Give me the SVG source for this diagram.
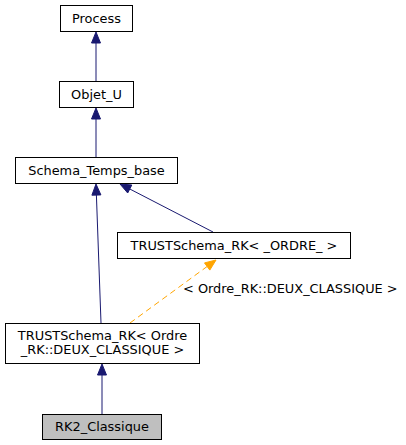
<svg xmlns="http://www.w3.org/2000/svg" width="406" height="445" viewBox="0 0 406 445">
<style>
.node rect{fill:#ffffff;stroke:#000000;stroke-width:1}
.node text{font-family:"DejaVu Sans",sans-serif;font-size:12.9px;fill:#000000;text-anchor:middle}
.edge line{stroke:#191970;stroke-width:1;fill:none}
.edge polygon{fill:#191970;stroke:#191970;stroke-width:1}
.tmpl line{stroke:#ffa500;stroke-dasharray:6,4}
.tmpl polygon{fill:#ffa500;stroke:#ffa500}
.lbl{font-family:"DejaVu Sans",sans-serif;font-size:12.9px;fill:#000000}
</style>
<rect width="406" height="445" fill="#ffffff"/>
<g id="connectors">
<g class="edge"><line x1="96" y1="81" x2="96" y2="43"/><polygon points="91.5,43 96,32 100.5,43"/></g>
<g class="edge"><line x1="96" y1="157" x2="96" y2="119"/><polygon points="91.5,119 96,108 100.5,119"/></g>
<g class="edge"><line x1="101" y1="323" x2="96.4" y2="195"/><polygon points="91.9,195.2 96,184 100.9,194.9"/></g>
<g class="edge"><line x1="213" y1="232" x2="129.8" y2="189"/><polygon points="131.8,185 120,184 127.7,193"/></g>
<g class="edge tmpl"><line x1="130" y1="323" x2="207.1" y2="266.5"/><polygon points="209.8,270.1 216,260 204.5,262.9"/></g>
<g class="edge"><line x1="102" y1="414" x2="102" y2="375"/><polygon points="97.5,375 102,364 106.5,375"/></g>
<text class="lbl" x="183" y="293">&lt; Ordre_RK::DEUX_CLASSIQUE &gt;</text>
</g>
<g id="node_process" class="node"><rect x="60.5" y="5.5" width="72" height="26"/><text x="96.5" y="22.5">Process</text></g>
<g id="node_objet_u" class="node"><rect x="59.5" y="81.5" width="74" height="26"/><text x="96.5" y="98.5">Objet_U</text></g>
<g id="node_schema_temps_base" class="node"><rect x="15.5" y="157.5" width="162" height="26"/><text x="96.5" y="175">Schema_Temps_base</text></g>
<g id="node_trustschema_rk_ordre" class="node"><rect x="117.5" y="232.5" width="233" height="26"/><text x="234" y="250">TRUSTSchema_RK&lt; _ORDRE_ &gt;</text></g>
<g id="node_trustschema_rk_deux" class="node"><rect x="5.5" y="323.5" width="194" height="40"/><text x="102.5" y="339.5">TRUSTSchema_RK&lt; Ordre</text><text x="102.5" y="353.5">_RK::DEUX_CLASSIQUE &gt;</text></g>
<g id="node_rk2_classique" class="node"><rect x="42.5" y="414.5" width="119" height="25" style="fill:#bfbfbf"/><text x="102" y="431">RK2_Classique</text></g>
</svg>
